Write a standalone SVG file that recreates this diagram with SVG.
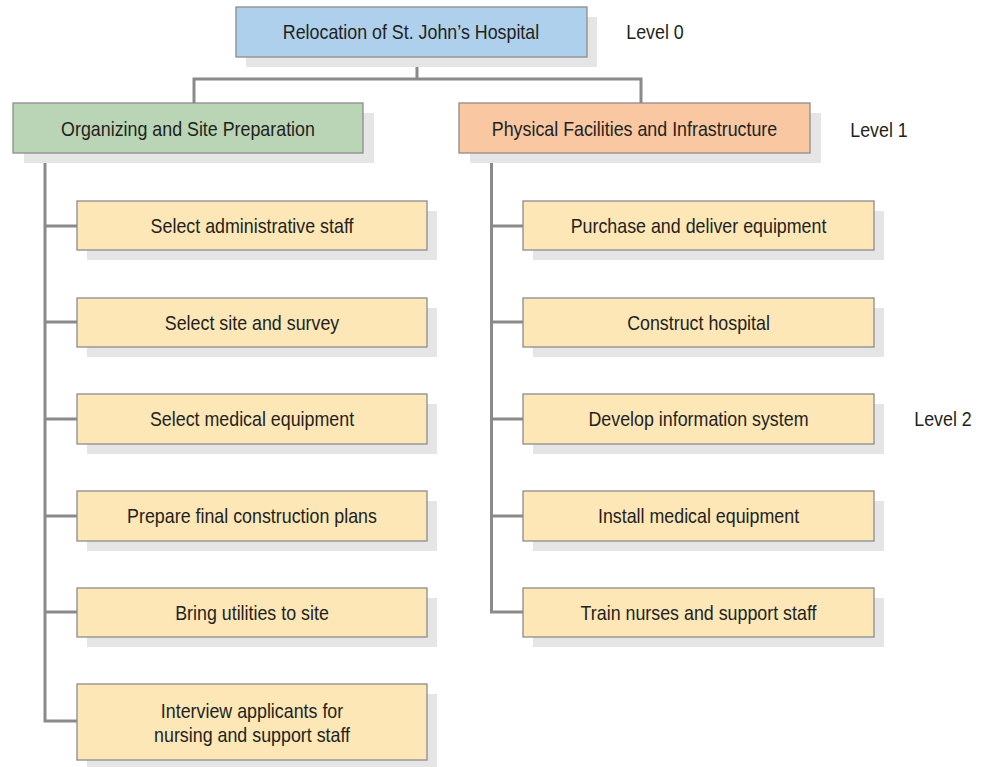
<svg xmlns="http://www.w3.org/2000/svg" width="984" height="767" viewBox="0 0 984 767">
  <style>
    .shadow { fill: #e6e5e6; }
    .box { stroke: #8c8c8e; stroke-width: 1.3; }
    .root { fill: #aed0ec; }
    .org { fill: #b9d5b5; }
    .phys { fill: #f9c8a2; }
    .task { fill: #fde7b7; }
    text {
      font-family: "Liberation Sans", Arial, sans-serif; font-size: 21px; fill: #231f20;
      text-anchor: middle;
      transform-box: fill-box; transform-origin: center; transform: scaleX(0.85);
    }
    .link { fill: none; stroke: #8a8a8c; stroke-width: 3; }
  </style>
  <rect width="984" height="767" fill="#ffffff"/>

  <!-- connectors -->
  <g id="connectors">
    <path class="link" d="M417 57 V79 M194 103 V79 H641 V103"/>
    <path class="link" d="M45 153 V721 H77 M45 226 H77 M45 322 H77 M45 419 H77 M45 516 H77 M45 612 H77"/>
    <path class="link" d="M491.5 153 V612 H523 M491.5 226 H523 M491.5 322 H523 M491.5 419 H523 M491.5 516 H523"/>
  </g>

  <!-- level 0 -->
  <g id="root">
    <rect class="shadow" x="246" y="17" width="351" height="50"/>
    <rect class="box root" x="236" y="7" width="351" height="50"/>
    <text x="411" y="39">Relocation of St. John’s Hospital</text>
  </g>
  <text id="level0" x="655" y="39">Level 0</text>

  <!-- level 1 -->
  <g id="organizing">
    <rect class="shadow" x="24" y="113" width="350" height="50"/>
    <rect class="box org" x="13" y="103" width="350" height="50"/>
    <text x="188" y="136">Organizing and Site Preparation</text>
  </g>
  <g id="physical">
    <rect class="shadow" x="470" y="113" width="351" height="50"/>
    <rect class="box phys" x="459" y="103" width="351" height="50"/>
    <text x="634.5" y="136">Physical Facilities and Infrastructure</text>
  </g>
  <text id="level1" x="879" y="137">Level 1</text>

  <!-- level 2, left branch -->
  <g id="select-admin">
    <rect class="shadow" x="87" y="211" width="350" height="49"/>
    <rect class="box task" x="77" y="201" width="350" height="49"/>
    <text x="252" y="233">Select administrative staff</text>
  </g>
  <g id="select-site">
    <rect class="shadow" x="87" y="308" width="350" height="49"/>
    <rect class="box task" x="77" y="298" width="350" height="49"/>
    <text x="252" y="330">Select site and survey</text>
  </g>
  <g id="select-medical">
    <rect class="shadow" x="87" y="404" width="350" height="50"/>
    <rect class="box task" x="77" y="394" width="350" height="50"/>
    <text x="252" y="426.5">Select medical equipment</text>
  </g>
  <g id="prepare-plans">
    <rect class="shadow" x="87" y="501" width="350" height="50"/>
    <rect class="box task" x="77" y="491" width="350" height="50"/>
    <text x="252" y="523.5">Prepare final construction plans</text>
  </g>
  <g id="bring-utilities">
    <rect class="shadow" x="87" y="598" width="350" height="49"/>
    <rect class="box task" x="77" y="588" width="350" height="49"/>
    <text x="252" y="620">Bring utilities to site</text>
  </g>
  <g id="interview">
    <rect class="shadow" x="87" y="694" width="350" height="76"/>
    <rect class="box task" x="77" y="684" width="350" height="76"/>
    <text x="252" y="718.5">Interview applicants for</text>
    <text x="252" y="742.5">nursing and support staff</text>
  </g>

  <!-- level 2, right branch -->
  <g id="purchase">
    <rect class="shadow" x="533" y="211" width="351" height="49"/>
    <rect class="box task" x="523" y="201" width="351" height="49"/>
    <text x="698.5" y="233">Purchase and deliver equipment</text>
  </g>
  <g id="construct">
    <rect class="shadow" x="533" y="308" width="351" height="49"/>
    <rect class="box task" x="523" y="298" width="351" height="49"/>
    <text x="698.5" y="330">Construct hospital</text>
  </g>
  <g id="info-system">
    <rect class="shadow" x="533" y="404" width="351" height="50"/>
    <rect class="box task" x="523" y="394" width="351" height="50"/>
    <text x="698.5" y="426.5">Develop information system</text>
  </g>
  <g id="install">
    <rect class="shadow" x="533" y="501" width="351" height="50"/>
    <rect class="box task" x="523" y="491" width="351" height="50"/>
    <text x="698.5" y="523.5">Install medical equipment</text>
  </g>
  <g id="train">
    <rect class="shadow" x="533" y="598" width="351" height="49"/>
    <rect class="box task" x="523" y="588" width="351" height="49"/>
    <text x="698.5" y="620">Train nurses and support staff</text>
  </g>
  <text id="level2" x="943" y="426">Level 2</text>
</svg>
